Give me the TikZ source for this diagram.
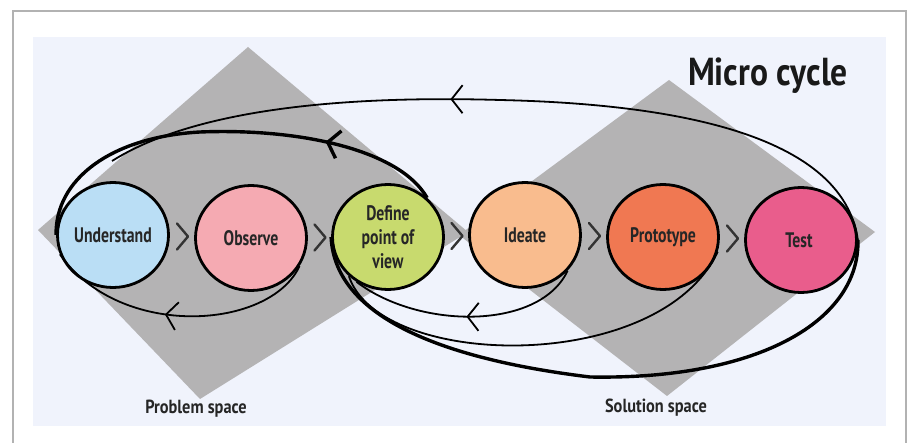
\documentclass[tikz,border=0pt]{standalone}
\usepackage{fontspec}
\setmainfont{PT Sans}[FakeStretch=0.75]
\newfontfamily\widefont{PT Sans}[FakeStretch=0.86]
\usetikzlibrary{calc,arrows.meta,decorations.markings,shapes.geometric}
\begin{document}
\begin{tikzpicture}[x=1pt,y=-1pt,
 bubble/.style={ellipse,draw=black,line width=2.8pt,
   minimum width=111pt,minimum height=105pt,inner sep=-16pt,
   align=center,text=black!85,
   font=\bfseries\fontsize{21}{24}\selectfont},
 chev/.style={draw=black!80,line width=2.4pt,line cap=round,line join=round},
 loopthin/.style={draw=black,line width=1.8pt},
 loopthick/.style={draw=black,line width=3.4pt},
 tipat/.style={postaction={decorate},decoration={markings,
   mark=at position #1 with {\arrow{Straight Barb[length=11pt,width=28pt]}}}},
 spacelbl/.style={text=black!85,font=\widefont\bfseries\fontsize{19}{21}\selectfont}]
 \definecolor{c1}{RGB}{186,222,245}
 \definecolor{c2}{RGB}{245,170,178}
 \definecolor{c3}{RGB}{200,218,110}
 \definecolor{c4}{RGB}{249,188,142}
 \definecolor{c5}{RGB}{240,120,82}
 \definecolor{c6}{RGB}{233,93,140}
 \definecolor{bgc}{RGB}{240,243,252}
 \definecolor{dia}{RGB}{180,179,180}
 \useasboundingbox (0,0) rectangle (908,443);
 \fill[white] (0,0) rectangle (908,443);
 \draw[black!30,line width=1.4pt] (13,443) -- (13,11) -- (906,11) -- (906,443);
 \fill[bgc] (33,37) rectangle (886,426);
 \fill[dia] (669,80) -- (875,232) -- (667,396) -- (459,235) -- cycle;
 \fill[dia] (248,47) -- (468,232) -- (200,399) -- (38,230) -- cycle;
 \foreach \nm/\col/\xp/\yp/\txt in {
   und/c1/113/235/{Understand}, obs/c2/251/238/{Observe},
   pov/c3/388/237/{Define\\point of\\view}, ide/c4/525/235/{Ideate},
   pro/c5/663/237/{Prototype}, tst/c6/801/240/{Test}
 } {
   \node[bubble,fill=\col] (\nm) at (\xp,\yp) {\txt};
 }
 \foreach \a/\b in {und/obs, obs/pov, pov/ide, ide/pro, pro/tst} {
   \draw[chev] ($(\a.east)!.5!(\b.west)$) ++(-5,-13) -- ++(11,13) -- ++(-11,13);
 }
 \coordinate (mrg) at (112,161);
 \draw[loopthick,tipat=0.27] (pov.45) .. controls (400,150) and (300,128) .. (200,132)
   .. controls (110,137) and (55,180) .. (und.west);
 \draw[loopthin,tipat=0.55] (obs.-30) .. controls (270,330) and (120,340) .. (und.200);
 \draw[loopthin,tipat=0.57] (tst.east) .. controls (845,150) and (720,105) .. (500,100)
   .. controls (330,95) and (190,112) .. (mrg);
 \draw[loopthick] (pov.west) .. controls (335,320) and (450,360) .. (590,377)
   .. controls (760,380) and (860,320) .. (tst.east);
 \draw[loopthin] (pov.225) .. controls (380,370) and (660,375) .. (pro.-15);
 \draw[loopthin,tipat=0.5] (ide.-40) .. controls (540,330) and (420,330) .. (pov.235);
 \node[font=\widefont\bfseries\fontsize{39}{44}\selectfont,text=black!90] (micro) at (768,76) {Micro cycle};
 \node[spacelbl] (prob) at (196,409) {Problem space};
 \node[spacelbl] (sol) at (656,408) {Solution space};
\end{tikzpicture}
\end{document}
